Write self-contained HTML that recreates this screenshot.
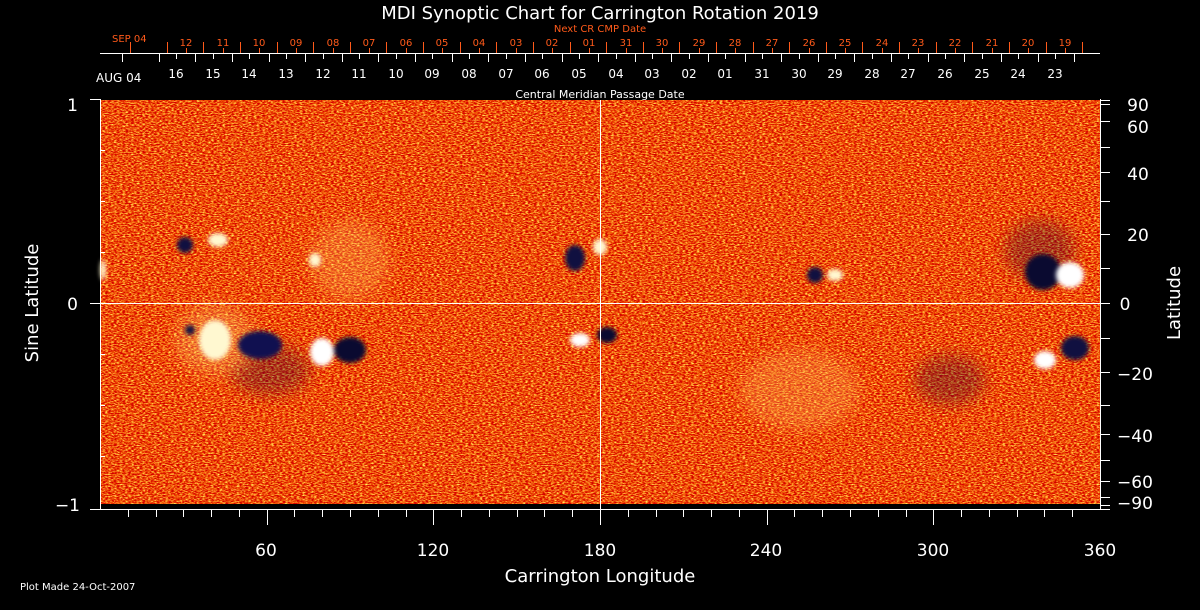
<!DOCTYPE html>
<html><head><meta charset="utf-8"><style>
html,body{margin:0;padding:0;background:#000;width:1200px;height:610px;overflow:hidden}
svg text{font-family:"DejaVu Sans","Liberation Sans",sans-serif;fill:#fff}
</style></head><body>
<svg width="1200" height="610" viewBox="0 0 1200 610" xmlns="http://www.w3.org/2000/svg">
<defs>
<filter id="tex" x="0" y="0" width="100%" height="100%" color-interpolation-filters="sRGB">
<feTurbulence type="fractalNoise" baseFrequency="0.35 0.9" numOctaves="2" seed="3" result="n"/>
<feColorMatrix in="n" type="matrix" values="0 0 0 0.5 0.68  0 0 0 2.0 -0.70  0 0 0 1.2 -0.60  0 0 0 0 1"/>
</filter>
<filter id="blur1" color-interpolation-filters="sRGB"><feGaussianBlur stdDeviation="2"/></filter>
<filter id="blur3" color-interpolation-filters="sRGB"><feGaussianBlur stdDeviation="8"/></filter>
</defs>
<rect x="0" y="0" width="1200" height="610" fill="#000"/>
<text x="600" y="19" font-size="18" text-anchor="middle">MDI Synoptic Chart for Carrington Rotation 2019</text>
<text x="600" y="32" font-size="10" text-anchor="middle" style="fill:#ff5a1a">Next CR CMP Date</text>
<rect x="101" y="100" width="999" height="404" fill="#e04a18" filter="url(#tex)"/>
<g filter="url(#blur3)" opacity="0.3">
<ellipse cx="1040" cy="250" rx="35" ry="30" fill="#200840"/>
<ellipse cx="270" cy="370" rx="40" ry="25" fill="#200840"/>
<ellipse cx="950" cy="380" rx="35" ry="25" fill="#200840"/>
<ellipse cx="800" cy="390" rx="60" ry="40" fill="#ffc060"/>
<ellipse cx="350" cy="260" rx="40" ry="40" fill="#ffc060"/>
<ellipse cx="215" cy="340" rx="40" ry="35" fill="#ffe080"/>
</g>
<g filter="url(#blur1)">
<ellipse cx="185" cy="245" rx="8" ry="8" fill="#101040"/>
<ellipse cx="575" cy="258" rx="10" ry="13" fill="#101040"/>
<ellipse cx="815" cy="275" rx="8" ry="8" fill="#101040"/>
<ellipse cx="1043" cy="272" rx="18" ry="18" fill="#0a0a30"/>
<ellipse cx="260" cy="345" rx="22" ry="14" fill="#101050"/>
<ellipse cx="350" cy="350" rx="16" ry="13" fill="#0a0a30"/>
<ellipse cx="607" cy="335" rx="10" ry="8" fill="#0a0a30"/>
<ellipse cx="1075" cy="348" rx="14" ry="12" fill="#101040"/>
<ellipse cx="190" cy="330" rx="5" ry="5" fill="#101040"/>
<ellipse cx="1070" cy="275" rx="14" ry="13" fill="#fff"/>
<ellipse cx="322" cy="352" rx="12" ry="14" fill="#fff"/>
<ellipse cx="215" cy="340" rx="16" ry="20" fill="#fff8d0"/>
<ellipse cx="580" cy="340" rx="10" ry="7" fill="#fff"/>
<ellipse cx="1045" cy="360" rx="11" ry="9" fill="#fff"/>
<ellipse cx="835" cy="275" rx="8" ry="6" fill="#fff8d0"/>
<ellipse cx="218" cy="240" rx="10" ry="7" fill="#fff8d0"/>
<ellipse cx="315" cy="260" rx="6" ry="7" fill="#fff8d0"/>
<ellipse cx="600" cy="247" rx="7" ry="8" fill="#fff8d0"/>
<ellipse cx="103" cy="270" rx="3" ry="10" fill="#fff8d0"/>
</g>
<g stroke="#fff" stroke-width="1" fill="none">
<line x1="600.5" y1="100" x2="600.5" y2="509"/>
<line x1="100" y1="303.5" x2="1100" y2="303.5"/>
<line x1="100.5" y1="99" x2="100.5" y2="509"/>
<line x1="1100.5" y1="99" x2="1100.5" y2="509"/>
<line x1="90" y1="509.5" x2="1110" y2="509.5"/>
<line x1="90" y1="99.5" x2="100" y2="99.5"/>
<line x1="90" y1="303.5" x2="100" y2="303.5"/>
<path d="M100 150.5h5M100 201.5h5M100 252.5h5M100 354.5h5M100 405.5h5M100 456.5h5"/>
<path d="M1100 100.5h10M1100 104.5h10M1100 121.5h10M1100 147.5h10M1100 172.5h10M1100 201.5h10M1100 234.5h10M1100 268.5h10M1100 303.5h10M1100 338.5h10M1100 372.5h10M1100 405.5h10M1100 434.5h10M1100 460.5h10M1100 481.5h10M1100 497.5h10M1100 505.5h10"/>
<path d="M128.5 509v8M156.5 509v8M183.5 509v8M211.5 509v8M239.5 509v8M267.5 509v16M294.5 509v8M322.5 509v8M350.5 509v8M378.5 509v8M406.5 509v8M433.5 509v16M461.5 509v8M489.5 509v8M517.5 509v8M544.5 509v8M572.5 509v8M600.5 509v16M628.5 509v8M656.5 509v8M683.5 509v8M711.5 509v8M739.5 509v8M767.5 509v16M794.5 509v8M822.5 509v8M850.5 509v8M878.5 509v8M906.5 509v8M933.5 509v16M961.5 509v8M989.5 509v8M1017.5 509v8M1044.5 509v8M1072.5 509v8"/>
<line x1="100" y1="53.5" x2="1100" y2="53.5"/>
<path d="M176.5 54v5M213.5 54v5M249.5 54v5M286.5 54v5M323.5 54v5M359.5 54v5M396.5 54v5M432.5 54v5M469.5 54v5M506.5 54v5M542.5 54v5M579.5 54v5M616.5 54v5M652.5 54v5M689.5 54v5M725.5 54v5M762.5 54v5M799.5 54v5M835.5 54v5M872.5 54v5M908.5 54v5M945.5 54v5M982.5 54v5M1018.5 54v5M1055.5 54v5"/>
<path d="M122.5 54v8M159.5 54v8M195.5 54v8M232.5 54v8M269.5 54v8M305.5 54v8M342.5 54v8M378.5 54v8M415.5 54v8M452.5 54v8M488.5 54v8M525.5 54v8M562.5 54v8M598.5 54v8M635.5 54v8M671.5 54v8M708.5 54v8M745.5 54v8M781.5 54v8M818.5 54v8M854.5 54v8M891.5 54v8M928.5 54v8M964.5 54v8M1001.5 54v8M1038.5 54v8M1074.5 54v8"/>
</g>
<g stroke="#ff5a1a" fill="none">
<path d="M186.5 48v5M223.5 48v5M259.5 48v5M296.5 48v5M333.5 48v5M369.5 48v5M406.5 48v5M442.5 48v5M479.5 48v5M516.5 48v5M552.5 48v5M589.5 48v5M626.5 48v5M662.5 48v5M699.5 48v5M735.5 48v5M772.5 48v5M809.5 48v5M845.5 48v5M882.5 48v5M918.5 48v5M955.5 48v5M992.5 48v5M1028.5 48v5M1065.5 48v5"/>
<path d="M130.5 42v11M167.5 42v11M203.5 42v11M240.5 42v11M277.5 42v11M313.5 42v11M350.5 42v11M386.5 42v11M423.5 42v11M460.5 42v11M496.5 42v11M533.5 42v11M570.5 42v11M606.5 42v11M643.5 42v11M679.5 42v11M716.5 42v11M753.5 42v11M789.5 42v11M826.5 42v11M862.5 42v11M899.5 42v11M936.5 42v11M972.5 42v11M1009.5 42v11M1046.5 42v11M1082.5 42v11"/>
</g>
<g font-size="10" text-anchor="middle">
<text x="186" y="46" style="fill:#ff5a1a">12</text><text x="223" y="46" style="fill:#ff5a1a">11</text><text x="259" y="46" style="fill:#ff5a1a">10</text><text x="296" y="46" style="fill:#ff5a1a">09</text><text x="333" y="46" style="fill:#ff5a1a">08</text><text x="369" y="46" style="fill:#ff5a1a">07</text><text x="406" y="46" style="fill:#ff5a1a">06</text><text x="442" y="46" style="fill:#ff5a1a">05</text><text x="479" y="46" style="fill:#ff5a1a">04</text><text x="516" y="46" style="fill:#ff5a1a">03</text><text x="552" y="46" style="fill:#ff5a1a">02</text><text x="589" y="46" style="fill:#ff5a1a">01</text><text x="626" y="46" style="fill:#ff5a1a">31</text><text x="662" y="46" style="fill:#ff5a1a">30</text><text x="699" y="46" style="fill:#ff5a1a">29</text><text x="735" y="46" style="fill:#ff5a1a">28</text><text x="772" y="46" style="fill:#ff5a1a">27</text><text x="809" y="46" style="fill:#ff5a1a">26</text><text x="845" y="46" style="fill:#ff5a1a">25</text><text x="882" y="46" style="fill:#ff5a1a">24</text><text x="918" y="46" style="fill:#ff5a1a">23</text><text x="955" y="46" style="fill:#ff5a1a">22</text><text x="992" y="46" style="fill:#ff5a1a">21</text><text x="1028" y="46" style="fill:#ff5a1a">20</text><text x="1065" y="46" style="fill:#ff5a1a">19</text>
</g>
<g font-size="12" text-anchor="middle">
<text x="176" y="78">16</text><text x="213" y="78">15</text><text x="249" y="78">14</text><text x="286" y="78">13</text><text x="323" y="78">12</text><text x="359" y="78">11</text><text x="396" y="78">10</text><text x="432" y="78">09</text><text x="469" y="78">08</text><text x="506" y="78">07</text><text x="542" y="78">06</text><text x="579" y="78">05</text><text x="616" y="78">04</text><text x="652" y="78">03</text><text x="689" y="78">02</text><text x="725" y="78">01</text><text x="762" y="78">31</text><text x="799" y="78">30</text><text x="835" y="78">29</text><text x="872" y="78">28</text><text x="908" y="78">27</text><text x="945" y="78">26</text><text x="982" y="78">25</text><text x="1018" y="78">24</text><text x="1055" y="78">23</text>
</g>
<text x="78" y="111" font-size="17" text-anchor="end">1</text>
<text x="78" y="310" font-size="17" text-anchor="end">0</text>
<text x="80" y="511" font-size="17" text-anchor="end">−1</text>
<text transform="translate(38,303) rotate(-90)" font-size="18" text-anchor="middle">Sine Latitude</text>
<text transform="translate(1180,303) rotate(-90)" font-size="18" text-anchor="middle">Latitude</text>
<g font-size="17" text-anchor="middle">
<text x="1138" y="111">90</text><text x="1138" y="133">60</text><text x="1138" y="180">40</text>
<text x="1138" y="241">20</text><text x="1125" y="310">0</text><text x="1135" y="380">−20</text>
<text x="1135" y="442">−40</text><text x="1135" y="488">−60</text><text x="1135" y="509">−90</text>
<text x="266" y="556">60</text><text x="433" y="556">120</text><text x="600" y="556">180</text>
<text x="766" y="556">240</text><text x="933" y="556">300</text><text x="1100" y="556">360</text>
</g>
<text x="600" y="582" font-size="18" text-anchor="middle">Carrington Longitude</text>
<text x="20" y="590" font-size="10">Plot Made 24-Oct-2007</text>
<text x="96" y="82" font-size="12">AUG 04</text>
<text x="112" y="42" font-size="10" style="fill:#ff5a1a">SEP 04</text>
<text x="600" y="98" font-size="11" text-anchor="middle">Central Meridian Passage Date</text>
</svg>
</body></html>
